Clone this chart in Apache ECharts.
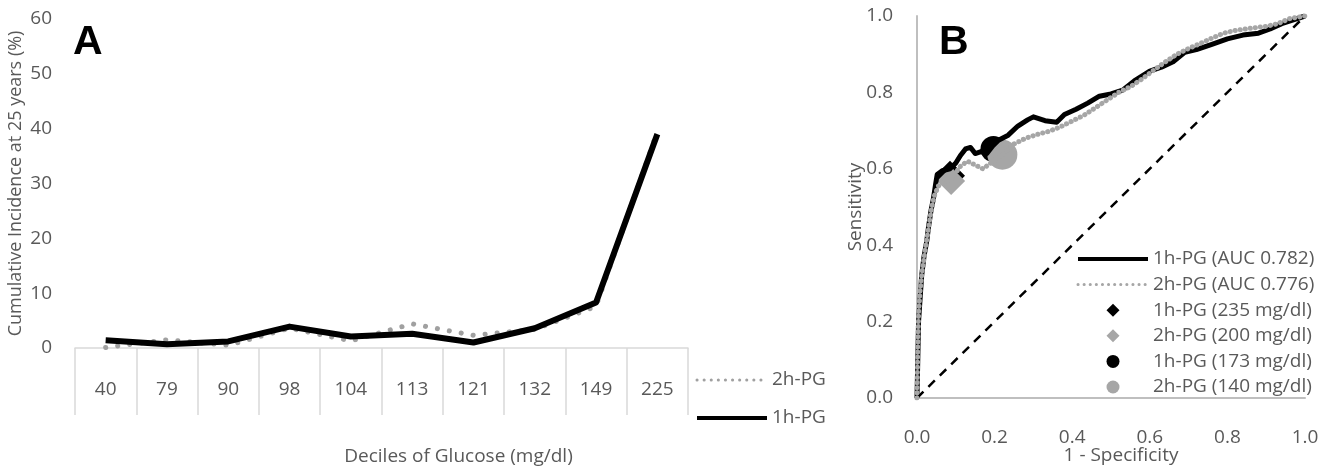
<!DOCTYPE html>
<html><head><meta charset="utf-8">
<script src="https://cdn.jsdelivr.net/npm/echarts@6/dist/echarts.min.js"></script>
<style>html,body{margin:0;padding:0;background:#fff}#c{width:1333px;height:470px}</style>
</head><body><div id="c"></div>
<script>
// Panel A
const deciles = ['40','79','90','98','104','113','121','132','149','225'];
const incidence1h = [1.4, 0.7, 1.2, 3.9, 2.1, 2.6, 1.0, 3.6, 8.3, 39.0];
const incidence2h = [0.1, 1.5, 0.5, 3.6, 1.3, 4.4, 2.3, 3.4, 7.6, 39.5];

// Panel B (ROC curves)
const roc1hX = [0,0.002,0.004,0.008,0.012,0.018,0.025,0.03,0.036,0.042,0.048,0.052,0.065,0.085,0.1,0.112,0.125,0.138,0.15,0.165,0.18,0.195,0.21,0.235,0.26,0.285,0.3,0.33,0.36,0.38,0.41,0.44,0.47,0.5,0.53,0.56,0.6,0.63,0.66,0.69,0.72,0.76,0.8,0.84,0.88,0.91,0.94,0.97,1];
const roc1hY = [0,0.1,0.2,0.26,0.32,0.37,0.41,0.45,0.49,0.52,0.56,0.585,0.595,0.6,0.615,0.635,0.652,0.656,0.64,0.645,0.64,0.66,0.675,0.688,0.712,0.728,0.736,0.726,0.722,0.742,0.756,0.772,0.79,0.796,0.806,0.83,0.856,0.866,0.88,0.905,0.912,0.926,0.94,0.95,0.955,0.966,0.98,0.99,1];
const roc2hX = [0,0.002,0.004,0.008,0.013,0.02,0.026,0.032,0.038,0.045,0.055,0.07,0.088,0.11,0.13,0.15,0.17,0.19,0.22,0.25,0.28,0.31,0.34,0.37,0.4,0.43,0.46,0.49,0.52,0.55,0.58,0.61,0.64,0.67,0.7,0.73,0.76,0.79,0.82,0.86,0.9,0.93,0.96,1];
const roc2hY = [0,0.12,0.22,0.28,0.33,0.38,0.42,0.46,0.5,0.53,0.555,0.565,0.57,0.605,0.62,0.61,0.6,0.615,0.637,0.665,0.68,0.69,0.698,0.71,0.725,0.74,0.76,0.78,0.8,0.815,0.835,0.858,0.88,0.9,0.915,0.928,0.942,0.955,0.962,0.968,0.973,0.98,0.993,1];
const cut1h235 = [0.085, 0.582];
const cut2h200 = [0.088, 0.568];
const cut1h173 = [0.197, 0.652];
const cut2h140 = [0.22, 0.637];
const diagonal = [[0,0],[1,1]];

const zip = (xs, ys) => xs.map((x, i) => [x, ys[i]]);
const TXT = '#595959';
const FONT = 'Open Sans';
const FS = 19;
const DIAMOND_ICON = 'path://M6,0 L12,6 L6,12 L0,6 Z';
const CIRCLE_ICON = 'path://M6,0 A6,6 0 1 1 6,12 A6,6 0 1 1 6,0 Z';
const hideSym = {opacity: 0};

const chart = echarts.init(document.getElementById('c'), null, {renderer: 'canvas'});
chart.setOption({
  animation: false,
  backgroundColor: '#fff',
  textStyle: {fontFamily: FONT},
  title: [
    {text: 'A', left: 68, top: 17, textStyle: {fontFamily: 'Liberation Sans', fontWeight: 'bold', fontSize: 41, color: '#000'}},
    {text: 'B', left: 934, top: 17, textStyle: {fontFamily: 'Liberation Sans', fontWeight: 'bold', fontSize: 41, color: '#000'}}
  ],
  grid: [
    {left: 75, top: 19, width: 613, height: 329, outerBoundsMode: 'none', containLabel: false},
    {left: 917, top: 16, width: 388, height: 382, outerBoundsMode: 'none', containLabel: false}
  ],
  xAxis: [
    {gridIndex: 0, type: 'category', data: deciles, boundaryGap: true,
     axisLine: {lineStyle: {color: '#D9D9D9', width: 1.5}},
     axisTick: {show: true, length: 67, interval: 0, lineStyle: {color: '#D9D9D9', width: 1.5}},
     axisLabel: {margin: 32, fontSize: FS, color: TXT, fontFamily: FONT, interval: 0},
     splitLine: {show: false},
     name: 'Deciles of Glucose (mg/dl)', nameLocation: 'middle', nameGap: 99, nameMoveOverlap: false,
     nameTextStyle: {fontSize: FS, color: TXT, fontFamily: FONT, padding: [0,0,0,154]}},
    {gridIndex: 1, type: 'value', min: 0, max: 1, interval: 0.2,
     axisLine: {show: true, lineStyle: {color: '#BFBFBF', width: 2}},
     axisTick: {show: false}, splitLine: {show: false},
     axisLabel: {margin: 30, fontSize: FS, color: TXT, fontFamily: FONT, formatter: v => v.toFixed(1)},
     name: '1 - Specificity', nameLocation: 'middle', nameGap: 48, nameMoveOverlap: false,
     nameTextStyle: {fontSize: FS, color: TXT, fontFamily: FONT, padding: [0,0,0,20]}}
  ],
  yAxis: [
    {gridIndex: 0, type: 'value', min: 0, max: 60, interval: 10,
     axisLine: {show: false}, axisTick: {show: false}, splitLine: {show: false},
     axisLabel: {margin: 23, fontSize: FS, color: TXT, fontFamily: FONT},
     name: 'Cumulative Incidence at 25 years (%)', nameLocation: 'middle', nameGap: 50, nameMoveOverlap: false,
     nameTextStyle: {fontSize: 18, color: TXT, fontFamily: FONT}},
    {gridIndex: 1, type: 'value', min: 0, max: 1, interval: 0.2,
     axisLine: {show: true, lineStyle: {color: '#BFBFBF', width: 2}},
     axisTick: {show: false}, splitLine: {show: false},
     axisLabel: {margin: 24, fontSize: FS, color: TXT, fontFamily: FONT, formatter: v => v.toFixed(1)},
     name: 'Sensitivity', nameLocation: 'middle', nameGap: 52, nameMoveOverlap: false,
     nameTextStyle: {fontSize: FS, color: TXT, fontFamily: FONT}}
  ],
  legend: [
    {orient: 'vertical', left: 695, top: 369, padding: 0, itemGap: 16, itemWidth: 70, itemHeight: 14,
     textStyle: {fontSize: FS, color: TXT, fontFamily: FONT, lineHeight: 22},
     data: [
       {name: '2h-PG', itemStyle: hideSym, lineStyle: {width: 3, type: [0.1, 7], cap: 'round'}},
       {name: '1h-PG', itemStyle: hideSym, lineStyle: {width: 4}}
     ]},
    {orient: 'vertical', left: 1076, top: 248, padding: 0, itemGap: 3.6, itemWidth: 70, itemHeight: 13,
     symbolKeepAspect: true,
     textStyle: {fontSize: FS, color: TXT, fontFamily: FONT, lineHeight: 22},
     data: [
       {name: '1h-PG (AUC 0.782)', itemStyle: hideSym, lineStyle: {width: 4}},
       {name: '2h-PG (AUC 0.776)', itemStyle: hideSym, lineStyle: {width: 3, type: [0.1, 6], cap: 'round'}},
       {name: '1h-PG (235 mg/dl)', icon: DIAMOND_ICON},
       {name: '2h-PG (200 mg/dl)', icon: DIAMOND_ICON},
       {name: '1h-PG (173 mg/dl)', icon: CIRCLE_ICON},
       {name: '2h-PG (140 mg/dl)', icon: CIRCLE_ICON}
     ]}
  ],
  series: [
    {name: '2h-PG', type: 'line', xAxisIndex: 0, yAxisIndex: 0, data: incidence2h, symbol: 'none',
     itemStyle: {color: '#A0A0A0'},
     lineStyle: {color: '#A0A0A0', width: 5, type: [0.1, 12], cap: 'round'}},
    {name: '1h-PG', type: 'line', xAxisIndex: 0, yAxisIndex: 0, data: incidence1h, symbol: 'none',
     itemStyle: {color: '#000'},
     lineStyle: {color: '#000', width: 6, join: 'round'}},
    {name: 'Reference', type: 'line', xAxisIndex: 1, yAxisIndex: 1, data: diagonal, symbol: 'none',
     lineStyle: {color: '#000', width: 2.5, type: [9, 7]}},
    {name: '1h-PG (AUC 0.782)', type: 'line', xAxisIndex: 1, yAxisIndex: 1, data: zip(roc1hX, roc1hY), symbol: 'none',
     itemStyle: {color: '#000'},
     lineStyle: {color: '#000', width: 5, join: 'round'}},
    {name: '2h-PG (AUC 0.776)', type: 'line', xAxisIndex: 1, yAxisIndex: 1, data: zip(roc2hX, roc2hY), symbol: 'none',
     itemStyle: {color: '#A6A6A6'},
     lineStyle: {color: '#A6A6A6', width: 5, type: [0.1, 5], cap: 'round'}},
    {name: '1h-PG (235 mg/dl)', type: 'scatter', xAxisIndex: 1, yAxisIndex: 1, data: [cut1h235], symbol: 'diamond', symbolSize: 30,
     itemStyle: {color: '#000', opacity: 1}},
    {name: '2h-PG (200 mg/dl)', type: 'scatter', xAxisIndex: 1, yAxisIndex: 1, data: [cut2h200], symbol: 'diamond', symbolSize: 28,
     itemStyle: {color: '#A6A6A6', opacity: 1}},
    {name: '1h-PG (173 mg/dl)', type: 'scatter', xAxisIndex: 1, yAxisIndex: 1, data: [cut1h173], symbol: 'circle', symbolSize: 26,
     itemStyle: {color: '#000', opacity: 1}},
    {name: '2h-PG (140 mg/dl)', type: 'scatter', xAxisIndex: 1, yAxisIndex: 1, data: [cut2h140], symbol: 'circle', symbolSize: 30,
     itemStyle: {color: '#A6A6A6', opacity: 1}}
  ]
});
</script>
</body></html>
